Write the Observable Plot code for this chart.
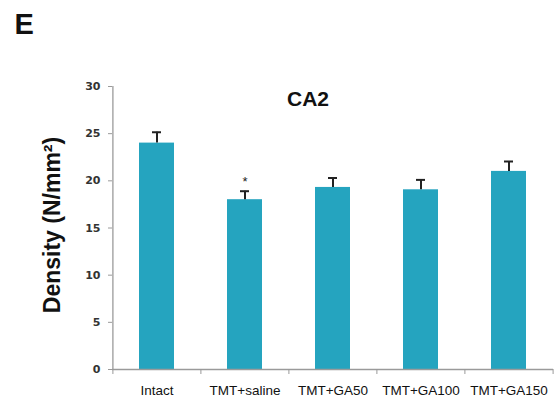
<!DOCTYPE html>
<html>
<head>
<meta charset="utf-8">
<script src="https://cdn.jsdelivr.net/npm/d3@7"></script>
<script src="https://cdn.jsdelivr.net/npm/@observablehq/plot@0.6"></script>
<style>
  html, body { margin: 0; padding: 0; background: #fff; }
  #chart { width: 560px; height: 405px; }
</style>
</head>
<body>
<div id="chart"></div>
<script>
const categories = ["Intact", "TMT+saline", "TMT+GA50", "TMT+GA100", "TMT+GA150"];
const means = [24.0, 18.0, 19.3, 19.05, 21.0];
const errors = [1.15, 0.9, 1.0, 1.05, 1.05];
const significance = ["", "*", "", "", ""];
const yTicks = [0, 5, 10, 15, 20, 25, 30];
const panelLabel = "E";
const title = "CA2";
const yLabel = "Density (N/mm²)";

const data = categories.map((c, i) => ({
  cat: c, mean: means[i], err: errors[i], upper: means[i] + errors[i], sig: significance[i]
}));

const W = 560, H = 405;
const mL = 112, mR = 7, mT = 86, mB = 36;
const step = (W - mL - mR) / categories.length;

const barColor = "#25a4bf";
const axisColor = "#9a9a9a";

const plot = Plot.plot({
  width: W, height: H,
  marginLeft: mL, marginRight: mR, marginTop: mT, marginBottom: mB,
  style: { fontFamily: "Liberation Sans, Arial, sans-serif", background: "#fff" },
  x: { domain: categories, paddingInner: 0.6, paddingOuter: 0.3, label: null },
  y: { domain: [0, 30], label: null },
  marks: [
    Plot.barY(data, { x: "cat", y: "mean", fill: barColor }),
    // error bars
    Plot.ruleX(data, { x: "cat", y1: "mean", y2: "upper", stroke: "#222", strokeWidth: 2 }),
    Plot.tickY(data, { x: "cat", y: "upper", stroke: "#222", strokeWidth: 2, insetLeft: 13, insetRight: 13 }),
    Plot.text(data, { x: "cat", y: "upper", text: "sig", dy: -9, fontSize: 13, fill: "#222" }),
    // axes lines
    Plot.ruleY([0], { stroke: axisColor, strokeWidth: 1.3 }),
    Plot.ruleX([categories[0]], { y1: 0, y2: 30, dx: -step / 2, stroke: axisColor, strokeWidth: 1.3 }),
    // y axis
    Plot.axisY({ ticks: yTicks, tickSize: 4, tickPadding: 8, stroke: axisColor, fill: "#333",
      fontSize: 11, fontWeight: "bold", fontFamily: "DejaVu Sans, sans-serif", label: null }),
    // x axis labels
    Plot.axisX({ tickSize: 0, tickPadding: 16, fill: "#111", fontSize: 13.5, label: null }),
    // x axis ticks at band boundaries
    Plot.axisX({ tickSize: 5, text: null, dx: -step / 2, stroke: axisColor, label: null }),
    Plot.axisX({ ticks: [categories[categories.length - 1]], tickSize: 5, text: null, dx: step / 2, stroke: axisColor, label: null }),
    // title
    Plot.text([title], { frameAnchor: "top", textAnchor: "middle", lineAnchor: "middle", dx: -25, dy: 13,
      fontSize: 21, fontWeight: "bold", fill: "#111" }),
    // y label
    Plot.text([yLabel], { frameAnchor: "left", textAnchor: "middle", lineAnchor: "middle", dx: -60, dy: -3,
      rotate: -90, fontSize: 23, fontWeight: "bold", fill: "#111" }),
    // panel letter
    Plot.text([panelLabel], { frameAnchor: "top-left", textAnchor: "start", lineAnchor: "middle", dx: -98, dy: -62,
      fontSize: 29, fontWeight: "bold", fill: "#111" })
  ]
});
document.getElementById("chart").appendChild(plot);
</script>
</body>
</html>
